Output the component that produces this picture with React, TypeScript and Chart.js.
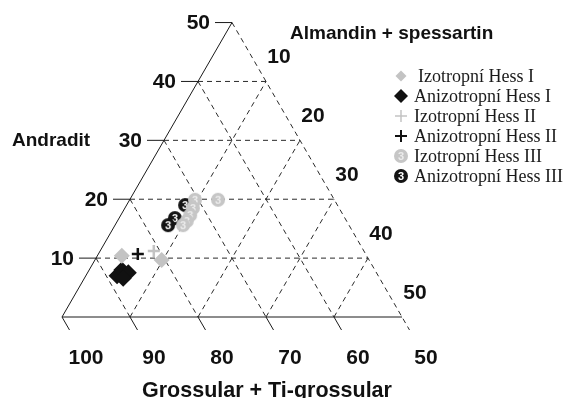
import React, { useEffect, useRef } from "react";
import { Chart, registerables } from "chart.js";
Chart.register(...registerables);

// Ternary values: Andradit (left axis), Almandin + spessartin (right axis);
// Grossular + Ti-grossular = 100 - Andradit - Almandin
const seriesNames = [
  "Izotropní Hess I",
  "Anizotropní Hess I",
  "Izotropní Hess II",
  "Anizotropní Hess II",
  "Izotropní Hess III",
  "Anizotropní Hess III",
];
const izoHessI_andradit = [10.4, 9.7];
const izoHessI_almandin = [3.6, 9.8];
const anizoHessI_andradit = [7.0, 8.0, 7.5, 6.6];
const anizoHessI_almandin = [4.6, 4.8, 6.0, 5.7];
const izoHessII_andradit = [11.2];
const izoHessII_almandin = [7.9];
const anizoHessII_andradit = [10.7];
const anizoHessII_almandin = [5.8];
const izoHessIII_andradit = [19.9, 19.9, 18.5, 17.3, 16.3, 15.6];
const izoHessIII_almandin = [13.0, 9.6, 10.0, 10.2, 10.2, 10.0];
const anizoHessIII_andradit = [19.0, 16.8, 15.6];
const anizoHessIII_almandin = [8.6, 8.2, 7.8];

const andraditTicks = [10, 20, 30, 40, 50];
const almandinTicks = [10, 20, 30, 40, 50];
const grossularTicks = [100, 90, 80, 70, 60, 50];

const W = 568;
const H = 398;
const S3 = Math.sqrt(3) / 2;
const ORIGIN_X = 62;
const ORIGIN_Y = 317;
const PX = 6.8;

function toXY(a: number[], alm: number[]) {
  return a.map((v, i) => ({ x: alm[i] + v / 2, y: v * S3 }));
}

function circle3(fill: string, textColor: string, r: number) {
  const c = document.createElement("canvas");
  const size = r * 2 + 2;
  c.width = size;
  c.height = size;
  const g = c.getContext("2d")!;
  g.beginPath();
  g.arc(size / 2, size / 2, r, 0, Math.PI * 2);
  g.fillStyle = fill;
  g.fill();
  g.fillStyle = textColor;
  g.font = "bold " + Math.round(r * 1.5) + "px 'Liberation Sans'";
  g.textAlign = "center";
  g.textBaseline = "middle";
  g.fillText("3", size / 2, size / 2 + 1);
  return c;
}

export default function App() {
  const ref = useRef<HTMLCanvasElement>(null);
  useEffect(() => {
    document.body.style.margin = "0";
    const grayC = circle3("#c6c6c6", "#ececec", 7);
    const blackC = circle3("#141414", "#ffffff", 7);
    const styles: any[] = [
      { pointStyle: "rectRot", pointRadius: 8, backgroundColor: "#c3c3c3", borderColor: "#c3c3c3", borderWidth: 0 },
      { pointStyle: "rectRot", pointRadius: 8.5, backgroundColor: "#111111", borderColor: "#111111", borderWidth: 0 },
      { pointStyle: "cross", pointRadius: 6, backgroundColor: "#c3c3c3", borderColor: "#c3c3c3", borderWidth: 2.5 },
      { pointStyle: "cross", pointRadius: 6, backgroundColor: "#111111", borderColor: "#111111", borderWidth: 2.5 },
      { pointStyle: grayC, pointRadius: 7 },
      { pointStyle: blackC, pointRadius: 7 },
    ];
    const datas = [
      toXY(izoHessI_andradit, izoHessI_almandin),
      toXY(anizoHessI_andradit, anizoHessI_almandin),
      toXY(izoHessII_andradit, izoHessII_almandin),
      toXY(anizoHessII_andradit, anizoHessII_almandin),
      toXY(izoHessIII_andradit, izoHessIII_almandin),
      toXY(anizoHessIII_andradit, anizoHessIII_almandin),
    ];

    const ternaryPlugin = {
      id: "ternary",
      beforeDatasetsDraw(chart: any) {
        const ctx = chart.ctx;
        const xs = chart.scales.x;
        const ys = chart.scales.y;
        const P = (a: number, alm: number) => ({
          x: xs.getPixelForValue(alm + a / 2),
          y: ys.getPixelForValue(a * S3),
        });
        const line = (p: any, q: any) => {
          ctx.beginPath();
          ctx.moveTo(p.x, p.y);
          ctx.lineTo(q.x, q.y);
          ctx.stroke();
        };
        const apex = P(50, 0);
        const br = P(0, 50);
        const len = Math.hypot(br.x - apex.x, br.y - apex.y);
        const dir = { x: (br.x - apex.x) / len, y: (br.y - apex.y) / len };
        ctx.save();
        ctx.strokeStyle = "#2a2a2a";
        ctx.lineWidth = 1;
        ctx.setLineDash([5, 4]);
        [10, 20, 30, 40].forEach((v) => {
          line(P(v, 0), P(v, 50 - v));
          line(P(0, v), P(50 - v, v));
          line(P(v, 0), P(0, v));
        });
        line(apex, { x: br.x + dir.x * 15, y: br.y + dir.y * 15 });
        ctx.setLineDash([]);
        ctx.strokeStyle = "#1a1a1a";
        line(P(0, 0), apex);
        line(P(0, 0), br);
        andraditTicks.forEach((a) => {
          const p = P(a, 0);
          line(p, { x: p.x - 17, y: p.y });
        });
        grossularTicks.slice(0, 5).forEach((g) => {
          const p = P(0, 100 - g);
          line(p, { x: p.x + dir.x * 15, y: p.y + dir.y * 15 });
        });
        // tick labels
        ctx.fillStyle = "#111";
        ctx.font = "bold 21px 'Liberation Sans'";
        ctx.textBaseline = "middle";
        ctx.textAlign = "right";
        andraditTicks.forEach((a) => {
          const p = P(a, 0);
          ctx.fillText(String(a), p.x - 22, p.y + 1);
        });
        ctx.textAlign = "center";
        almandinTicks.forEach((m) => {
          const p = P(50 - m, m);
          ctx.fillText(String(m), p.x + 13, p.y - 24);
        });
        grossularTicks.forEach((g) => {
          const p = P(0, 100 - g);
          ctx.fillText(String(g), p.x + dir.x * 48, p.y + dir.y * 48);
        });
        // axis titles
        ctx.textAlign = "left";
        ctx.textBaseline = "alphabetic";
        ctx.font = "bold 19px 'Liberation Sans'";
        ctx.fillText("Andradit", 12, 146);
        ctx.fillText("Almandin + spessartin", 290, 39);
        ctx.font = "bold 21.5px 'Liberation Sans'";
        ctx.fillText("Grossular + Ti-grossular", 142, 397);
        ctx.restore();
      },
      afterDraw(chart: any) {
        const ctx = chart.ctx;
        ctx.save();
        const rows = [76, 96, 116, 136, 156, 176];
        const mx = 401;
        rows.forEach((y, i) => {
          const st = styles[i];
          if (i === 0 || i === 1) {
            const r = i === 0 ? 5.5 : 7;
            ctx.beginPath();
            ctx.moveTo(mx, y - r);
            ctx.lineTo(mx + r, y);
            ctx.lineTo(mx, y + r);
            ctx.lineTo(mx - r, y);
            ctx.closePath();
            ctx.fillStyle = st.backgroundColor;
            ctx.fill();
          } else if (i === 2 || i === 3) {
            ctx.strokeStyle = st.borderColor;
            ctx.lineWidth = i === 2 ? 1.5 : 2;
            ctx.beginPath();
            ctx.moveTo(mx - 6, y);
            ctx.lineTo(mx + 6, y);
            ctx.moveTo(mx, y - 6);
            ctx.lineTo(mx, y + 6);
            ctx.stroke();
          } else {
            const img = st.pointStyle as HTMLCanvasElement;
            ctx.drawImage(img, mx - img.width / 2, y - img.height / 2);
          }
          ctx.fillStyle = "#1a1a1a";
          ctx.font = "18px 'Liberation Serif'";
          ctx.textAlign = "left";
          ctx.textBaseline = "alphabetic";
          ctx.fillText(seriesNames[i], i === 0 ? 418 : 414, y + 6);
        });
        ctx.restore();
      },
    };

    const chart = new Chart(ref.current!, {
      type: "scatter",
      data: {
        datasets: datas.map((d, i) => ({
          label: seriesNames[i],
          data: d,
          ...styles[i],
        })),
      },
      options: {
        animation: false,
        responsive: false,
        devicePixelRatio: 1,
        layout: { padding: 0, autoPadding: false },
        plugins: { legend: { display: false }, tooltip: { enabled: false } },
        scales: {
          x: { type: "linear", display: false, min: -ORIGIN_X / PX, max: (W - ORIGIN_X) / PX },
          y: { type: "linear", display: false, min: -(H - ORIGIN_Y) / PX, max: ORIGIN_Y / PX },
        },
      },
      plugins: [ternaryPlugin],
    } as any);
    return () => chart.destroy();
  }, []);
  return <canvas ref={ref} width={W} height={H} style={{ display: "block" }} />;
}
